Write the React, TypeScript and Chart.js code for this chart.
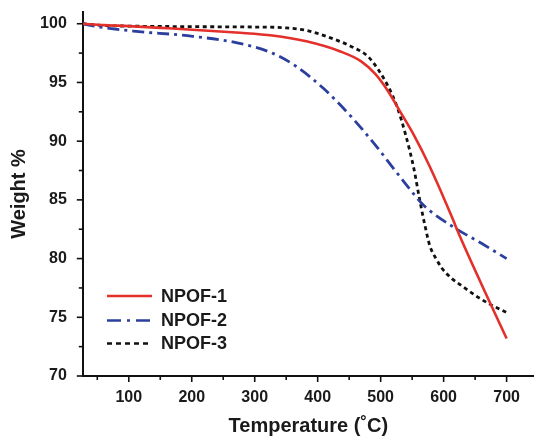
import React, { useEffect, useRef } from "react";
import { Chart, registerables } from "chart.js";

Chart.register(...registerables);

const seriesNames = ["NPOF-1", "NPOF-2", "NPOF-3"];

const npof1T = [27, 60, 100, 150, 220, 270, 328, 382, 436, 469, 491, 510, 530, 553, 577, 615, 621, 674, 700];
const npof1W = [100, 99.88, 99.8, 99.65, 99.43, 99.25, 99.0, 98.5, 97.64, 96.8, 95.75, 94.4, 92.6, 90.5, 87.95, 83.3, 82.5, 76.2, 73.2];

const npof2T = [27, 50, 112, 193, 274, 328, 366, 409, 453, 491, 523, 545, 567, 615, 660, 700];
const npof2W = [100, 99.75, 99.35, 98.98, 98.35, 97.5, 96.36, 94.5, 92.1, 89.7, 87.5, 86.0, 84.6, 82.7, 81.3, 80.0];

const npof3T = [27, 60, 100, 200, 300, 350, 382, 415, 453, 480, 496, 512, 526, 539, 553, 562, 570, 578, 589, 597, 613, 631, 655, 674, 700];
const npof3W = [100, 99.85, 99.8, 99.75, 99.72, 99.65, 99.43, 98.9, 98.07, 97.2, 96.1, 94.65, 92.94, 90.67, 87.6, 85.0, 82.9, 81.1, 79.9, 79.2, 78.3, 77.6, 76.7, 76.1, 75.4];

const xTickLabels = [100, 200, 300, 400, 500, 600, 700];
const yTickLabels = [70, 75, 80, 85, 90, 95, 100];

const colors = ["#e3302a", "#2c3f9e", "#111111"];
const dashes: number[][] = [[], [12, 5, 3, 5], [4, 3.5]];

const FONT = "'Liberation Sans', Arial, Helvetica, sans-serif";

const toPts = (t: number[], w: number[]) => t.map((x, i) => ({ x, y: w[i] }));

const ticksPlugin = {
  id: "minorMajorTicks",
  afterDraw(chart: any) {
    const { ctx, chartArea, scales } = chart;
    const xs = scales.x;
    const ys = scales.y;
    ctx.save();
    ctx.strokeStyle = "#111";
    ctx.lineWidth = 1.6;
    for (let v = 50; v <= 700; v += 50) {
      const px = xs.getPixelForValue(v);
      const len = v % 100 === 0 ? 6 : 4;
      ctx.beginPath();
      ctx.moveTo(px, chartArea.bottom);
      ctx.lineTo(px, chartArea.bottom + len);
      ctx.stroke();
    }
    for (let v = 70; v <= 100; v += 2.5) {
      const py = ys.getPixelForValue(v);
      const len = v % 5 === 0 ? 6 : 4;
      ctx.beginPath();
      ctx.moveTo(chartArea.left, py);
      ctx.lineTo(chartArea.left - len, py);
      ctx.stroke();
    }
    // legend
    const rows = [296, 320.5, 343.5];
    chart.data.datasets.forEach((ds: any, i: number) => {
      const y = rows[i];
      ctx.strokeStyle = ds.borderColor;
      ctx.lineWidth = 2.5;
      ctx.setLineDash(i === 1 ? [14, 6, 3, 6] : i === 2 ? [5, 4] : []);
      ctx.beginPath();
      ctx.moveTo(107, y);
      ctx.lineTo(152, y);
      ctx.stroke();
      ctx.setLineDash([]);
      ctx.fillStyle = "#1a1a1a";
      ctx.font = `bold 18px ${FONT}`;
      ctx.textAlign = "left";
      ctx.textBaseline = "middle";
      ctx.fillText(ds.label, 161, y + 1);
    });
    ctx.restore();
  },
};

export default function App() {
  const ref = useRef<HTMLCanvasElement | null>(null);
  useEffect(() => {
    document.body.style.margin = "0";
    const canvas = ref.current;
    if (!canvas) return;
    const sets = [toPts(npof1T, npof1W), toPts(npof2T, npof2W), toPts(npof3T, npof3W)];
    const chart = new Chart(canvas, {
      type: "line",
      data: {
        datasets: sets.map((d, i) => ({
          label: seriesNames[i],
          data: d,
          borderColor: colors[i],
          backgroundColor: colors[i],
          borderWidth: i === 0 ? 2.6 : 2.8,
          borderDash: dashes[i],
          pointRadius: 0,
          fill: false,
          cubicInterpolationMode: "monotone" as const,
        })),
      },
      options: {
        animation: false,
        responsive: false,
        maintainAspectRatio: false,
        layout: { padding: { top: 12, right: 0, left: 0, bottom: 0 } },
        plugins: { legend: { display: false }, tooltip: { enabled: false } },
        scales: {
          x: {
            type: "linear",
            min: 27,
            max: 743.5,
            afterBuildTicks: (s: any) => {
              s.ticks = xTickLabels.map((v) => ({ value: v }));
            },
            afterFit: (s: any) => {
              s.height = 64;
              s.paddingLeft = 0;
              s.paddingRight = 0;
            },
            grid: { display: false, drawTicks: false },
            border: { display: true, color: "#111", width: 2 },
            ticks: {
              padding: 12,
              color: "#1a1a1a",
              font: { family: FONT, size: 16, weight: "bold" },
              maxRotation: 0,
            },
            title: {
              display: true,
              text: "Temperature (˚C)",
              color: "#1a1a1a",
              font: { family: FONT, size: 20, weight: "bold" },
              padding: { top: 0, bottom: 2 },
            },
          },
          y: {
            type: "linear",
            min: 70,
            max: 101,
            afterBuildTicks: (s: any) => {
              s.ticks = yTickLabels.map((v) => ({ value: v }));
            },
            afterFit: (s: any) => {
              s.width = 82.8;
              s.paddingTop = 0;
              s.paddingBottom = 0;
            },
            grid: { display: false, drawTicks: false },
            border: { display: true, color: "#111", width: 2 },
            ticks: {
              padding: 16,
              color: "#1a1a1a",
              font: { family: FONT, size: 16, weight: "bold" },
            },
            title: {
              display: true,
              text: "Weight %",
              color: "#1a1a1a",
              font: { family: FONT, size: 20, weight: "bold" },
              padding: { top: 7, bottom: 0 },
            },
          },
        },
      },
      plugins: [ticksPlugin],
    });
    return () => chart.destroy();
  }, []);
  return (
    <div style={{ width: 534, height: 440 }}>
      <canvas ref={ref} width={534} height={440} style={{ display: "block" }} />
    </div>
  );
}
